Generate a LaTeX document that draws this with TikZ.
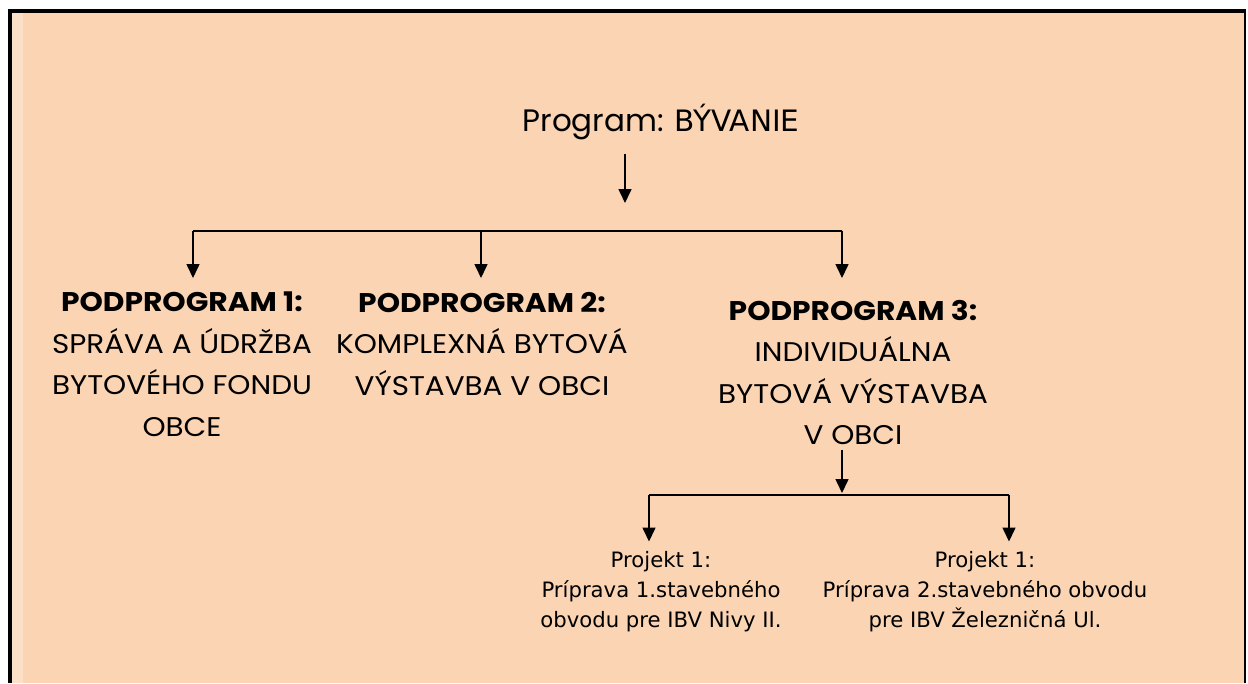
\documentclass[tikz,border=0pt]{standalone}
\usepackage{fontspec}
\setmainfont{Poppins}
\newfontfamily\hdfont{Poppins}[FakeStretch=1.1]
\newfontfamily\bdfont{Poppins}[FakeStretch=1.09]
\newfontfamily\verd{DejaVu Sans}
\usetikzlibrary{arrows.meta}
\definecolor{peach}{HTML}{FBD4B4}

\begin{document}
\begin{tikzpicture}[x=1pt,y=-1pt,
  arr/.style={line width=1.6pt,-{Triangle[width=13pt,length=14pt]}},
  bus/.style={line width=1.6pt},
  pprog/.style={align=center,inner sep=0pt,anchor=north,font=\bdfont\fontsize{27}{41.5}\selectfont},
  proj/.style={align=center,inner sep=0pt,anchor=north,font=\verd\fontsize{21.2}{30}\selectfont}]
\useasboundingbox (0,0) rectangle (1248,683);
% background and frame
\fill[peach] (10,11) rectangle (1244,683);
\fill[peach!75!white] (12,13) rectangle (23,683);
\draw[line width=4pt] (10,683) -- (10,11) -- (1244,11);
\draw[line width=2pt] (1244.5,9) -- (1244.5,683);

% program
\node[anchor=base,inner sep=0pt,font=\fontsize{31}{40}\selectfont] (prog) at (661,131)
  {Program: {\verd\fontsize{29.5}{40}\selectfont BÝVANIE}};
\coordinate (t0) at (625,203);
\draw[arr,shorten <=14pt] (prog.south -| t0) -- (t0);

% podprogramy
\node[pprog] (pp1) at (182,292) {{\hdfont\bfseries PODPROGRAM 1:}\\SPRÁVA A ÚDRŽBA\\BYTOVÉHO FONDU\\OBCE};
\node[pprog] (pp2) at (482,292) {{\hdfont\bfseries PODPROGRAM 2:}\\KOMPLEXNÁ BYTOVÁ\\VÝSTAVBA V OBCI};
\node[pprog] (pp3) at (853,300) {{\hdfont\bfseries PODPROGRAM 3:}\\INDIVIDUÁLNA\\BYTOVÁ VÝSTAVBA\\V OBCI};

\coordinate (b1) at (193,231);
\coordinate (b2) at (481,231);
\coordinate (b3) at (842,231);
\draw[bus] (b1) -- (b3);
\draw[arr,shorten >=14pt] (b1) -- (b1 |- pp1.north);
\draw[arr,shorten >=14pt] (b2) -- (b2 |- pp2.north);
\draw[arr,shorten >=22pt] (b3) -- (b3 |- pp3.north);

% projekty
\node[proj] (pr1) at (661,551.5) {Projekt 1:\\Príprava 1.stavebného\\obvodu pre IBV Nivy II.};
\node[proj] (pr2) at (985,551.5) {Projekt 1:\\Príprava 2.stavebného obvodu\\pre IBV Železničná Ul.};

\coordinate (c0) at (842,493);
\coordinate (c1) at (649,495);
\coordinate (c2) at (1009,495);
\draw[arr,shorten <=5pt] (pp3.south -| c0) -- (c0);
\draw[bus] (c1) -- (c2);
\draw[arr,shorten >=10pt] (c1) -- (c1 |- pr1.north);
\draw[arr,shorten >=10pt] (c2) -- (c2 |- pr2.north);
\end{tikzpicture}
\end{document}
